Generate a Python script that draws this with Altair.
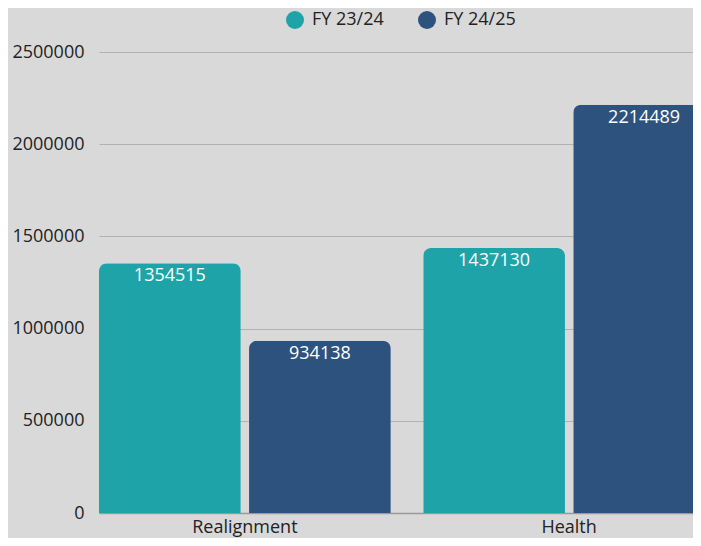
import altair as alt
import pandas as pd

categories = ["Realignment", "Health"]
series = ["FY 23/24", "FY 24/25"]
fy2324 = [1354515, 1437130]
fy2425 = [934138, 2214489]
colors = ["#1ea4a8", "#2e527e"]
y_ticks = [0, 500000, 1000000, 1500000, 2000000, 2500000]

rows = []
for i, c in enumerate(categories):
    rows.append({"category": c, "series": series[0], "value": fy2324[i]})
    rows.append({"category": c, "series": series[1], "value": fy2425[i]})
df = pd.DataFrame(rows)

FONT = "Open Sans"

x = alt.X(
    "category:N",
    sort=categories,
    scale=alt.Scale(domain=categories, range=[1, 617], paddingInner=0.1, paddingOuter=0),
    axis=alt.Axis(
        title=None, labelAngle=0, labelFontSize=18, labelFont=FONT, labelColor="#222222",
        ticks=False, labelPadding=5, domainColor="#9a9a9a", domainWidth=1.5, grid=False,
    ),
)
xo = alt.XOffset(
    "series:N",
    sort=series,
    scale=alt.Scale(domain=series, paddingInner=0.055, paddingOuter=0),
)
y = alt.Y(
    "value:Q",
    scale=alt.Scale(domain=[0, 2500000], nice=False),
    axis=alt.Axis(
        title=None, values=y_ticks, format="d", labelFontSize=18, labelFont=FONT,
        labelColor="#222222", ticks=False, domain=False, labelPadding=14,
        gridColor="#b2b2b2", gridWidth=1,
    ),
)

bars = alt.Chart(df).mark_bar(
    cornerRadiusTopLeft=8, cornerRadiusTopRight=8
).encode(
    x=x,
    xOffset=xo,
    y=y,
    color=alt.Color(
        "series:N",
        sort=series,
        scale=alt.Scale(domain=series, range=colors),
        legend=alt.Legend(
            title=None, orient="none", legendX=188, legendY=-41, direction="horizontal",
            symbolType="circle", symbolSize=324, symbolStrokeWidth=0, symbolOpacity=1,
            labelFontSize=18, labelFont=FONT, labelColor="#222222", labelOffset=8,
            columnPadding=34, padding=0,
        ),
    ),
)

labels = alt.Chart(df).mark_text(
    color="white", fontSize=18, font=FONT, baseline="alphabetic", dy=18
).encode(
    x=alt.X("category:N", sort=categories),
    xOffset=alt.XOffset("series:N", sort=series),
    y=alt.Y("value:Q"),
    text=alt.Text("value:Q", format="d"),
)

chart = alt.layer(bars, labels).properties(
    width=595,
    height=461,
    background="#d9d9d9",
    padding={"left": 90, "top": 44, "right": 0, "bottom": 25},
    autosize=alt.AutoSizeParams(type="none"),
).configure_view(stroke=None)

chart.save("out.html", embed_options={"renderer": "svg", "actions": False})
